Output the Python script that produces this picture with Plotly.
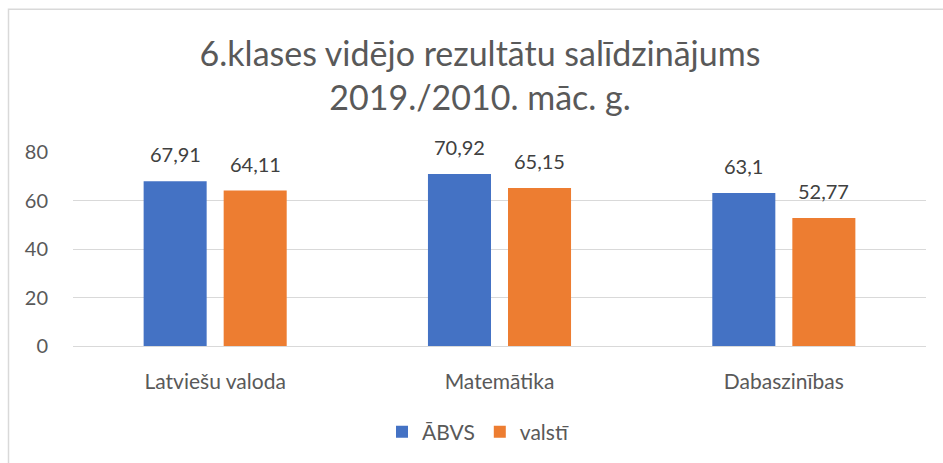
import plotly.graph_objects as go

categories = ["Latviešu valoda", "Matemātika", "Dabaszinības"]
series_names = ["ĀBVS", "valstī"]
abvs = [67.91, 70.92, 63.1]
valsti = [64.11, 65.15, 52.77]
colors = ["#4472C4", "#ED7D31"]
title_lines = ["6.klases vidējo rezultātu salīdzinājums", "2019./2010. māc. g."]
ytick_vals = [0, 20, 40, 60, 80]

FONT = "Lato"
W, H = 943, 463
L, R, T, B = 73, 17, 152, 116

pw = W - L - R
ph = H - T - B
def px_x(p):
    return (p - L) / pw
def px_y(p):
    return (H - B - p) / ph

fig = go.Figure()
annotations = []
for i, (name, vals, col) in enumerate(zip(series_names, [abvs, valsti], colors)):
    fig.add_trace(go.Bar(
        x=categories, y=vals, name=name,
        marker=dict(color=col, line=dict(width=0)),
    ))
    shift = -40 if i == 0 else 40
    for c, v in zip(categories, vals):
        annotations.append(dict(
            x=c, y=v, xref="x", yref="y", text=f"{v:g}".replace(".", ","),
            showarrow=False, xshift=shift, yshift=13, yanchor="bottom",
            font=dict(family=FONT, size=20, color="#404040"),
        ))

fig.update_layout(
    width=W, height=H,
    margin=dict(l=L, r=R, t=T, b=B, pad=0),
    paper_bgcolor="white", plot_bgcolor="white",
    barmode="group", bargap=0.437, bargroupgap=0.2125,
    font=dict(family=FONT, color="#595959", size=20),
    title=dict(text="<br>".join(title_lines), x=480 / W, xanchor="center",
               xref="container", y=1 - 66 / H, yanchor="middle",
               font=dict(family=FONT, size=34, color="#595959")),
    showlegend=True,
    legend=dict(orientation="h", x=px_x(478), xanchor="center",
                y=px_y(432), yanchor="middle",
                font=dict(family=FONT, size=21, color="#595959"),
                itemwidth=30, traceorder="normal"),
    xaxis=dict(showgrid=False, showline=False, ticks="",
               tickfont=dict(family=FONT, size=21, color="#595959"),
               ticklabelstandoff=21),
    yaxis=dict(range=[0, 80], tickvals=ytick_vals, showgrid=True,
               gridcolor="#D9D9D9", gridwidth=1, zeroline=True,
               zerolinecolor="#D9D9D9", zerolinewidth=1, showline=False,
               ticks="", ticklabelstandoff=24,
               tickfont=dict(family=FONT, size=20, color="#595959")),
    annotations=annotations,
    shapes=[dict(type="rect", xref="paper", yref="paper",
                 x0=px_x(8.5), x1=px_x(980), y0=px_y(480), y1=px_y(8.5),
                 line=dict(color="#D9D9D9", width=1.5), fillcolor="rgba(0,0,0,0)",
                 layer="below")],
)

fig.write_html("out.html")
